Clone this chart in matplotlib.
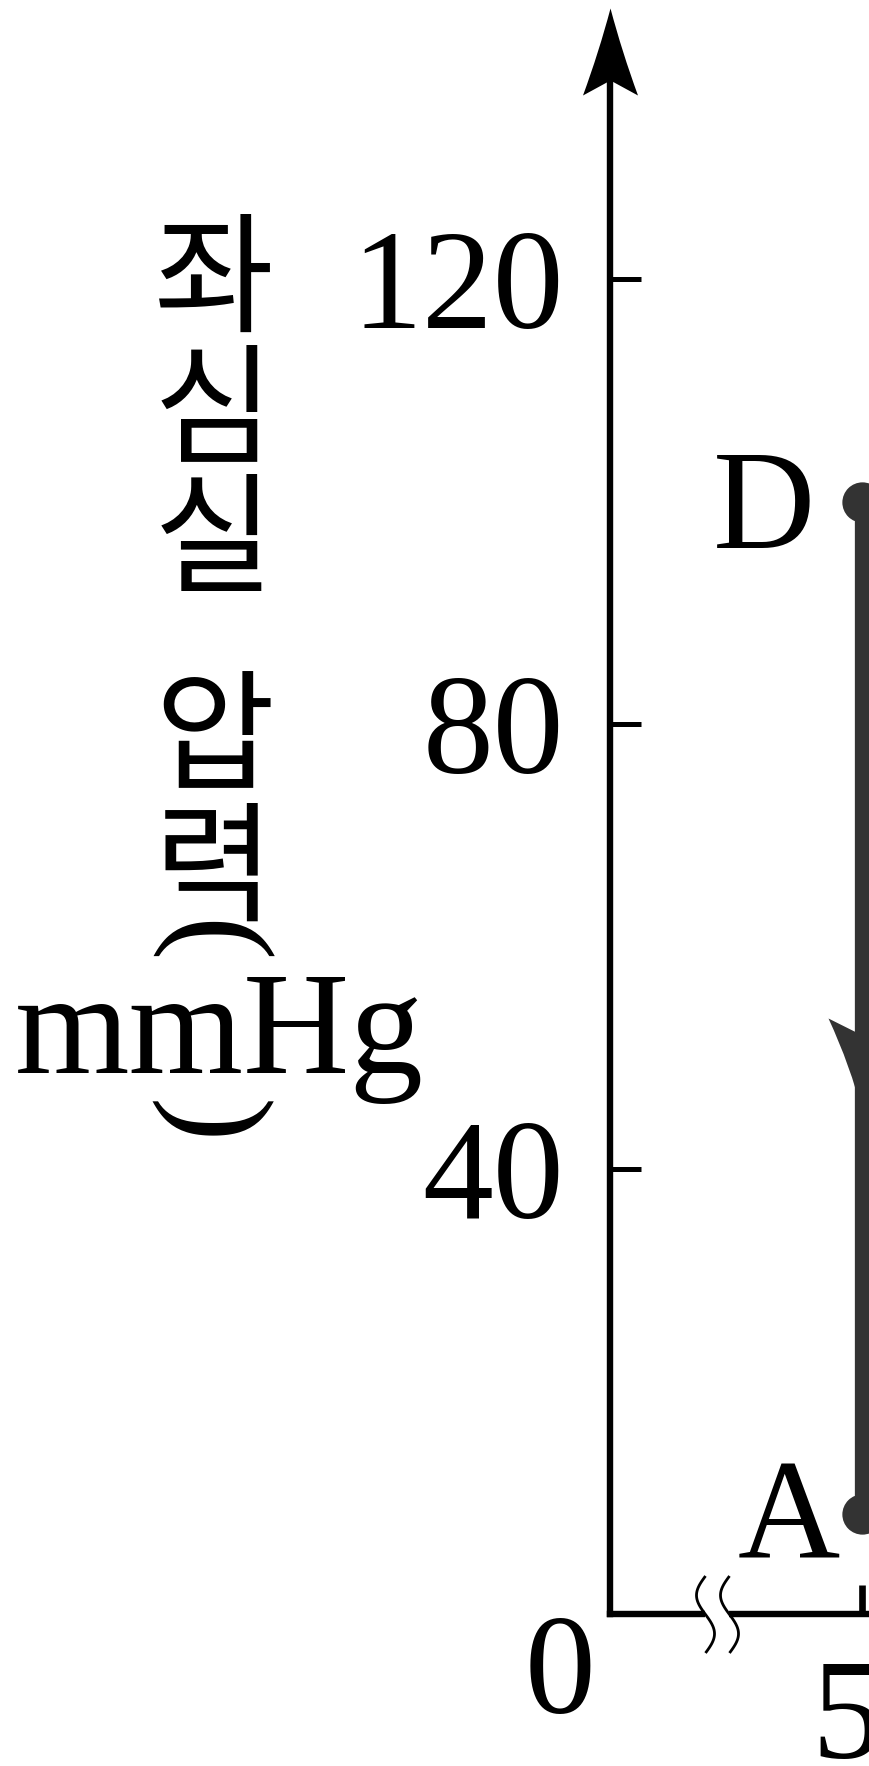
import numpy as np
import matplotlib
matplotlib.use("Agg")
import matplotlib.pyplot as plt
import matplotlib.transforms as mtrans
from matplotlib.path import Path
from matplotlib.markers import MarkerStyle

# ---------------- data ----------------
point_labels = ["D", "A"]
point_volume = [50, 50]          # mL
point_pressure = [100, 9]        # mmHg
arrow_pressure = 45              # direction arrow on D -> A segment
y_ticks = [40, 80, 120]
y_tick_labels = ["40", "80", "120"]
x_ticks = [50]
x_tick_labels = ["50"]
ylabel_chars = ["좌", "심", "실", "압", "력"]
ylabel_unit = "mmHg"

W, H = 870, 1766
fig = plt.figure(figsize=(W / 100, H / 100), dpi=100)
fig.patch.set_facecolor("white")

# axes geometry (pixels)
x0_px, y0_px = 610, 1614
top_px = 8
ax = fig.add_axes([x0_px / W, (H - y0_px) / H, (W - x0_px) / W, (y0_px - top_px) / H])
px_per_ml = (862 - x0_px) / 50.0
px_per_mmhg = (y0_px - 279) / 120.0
ax.set_xlim(0, (W - x0_px) / px_per_ml)
ymax = (y0_px - top_px) / px_per_mmhg
ax.set_ylim(0, ymax)
ax.set_facecolor("none")

for s in ["top", "right"]:
    ax.spines[s].set_visible(False)
for s in ["left", "bottom"]:
    ax.spines[s].set_linewidth(4.6)
    ax.spines[s].set_color("black")
ax.spines["left"].set_bounds(0, ymax - 50 / px_per_mmhg)

serif = "Liberation Serif"
ax.set_yticks(y_ticks, y_tick_labels)
ax.set_xticks(x_ticks, x_tick_labels)
ax.tick_params(axis="both", direction="in", length=22, width=3.6, color="black",
               labelsize=102, labelfontfamily=serif)
ax.tick_params(axis="y", pad=33)
ax.tick_params(axis="x", pad=33, length=21, width=4.8)
for lab in ax.get_xticklabels():
    lab.set_transform(lab.get_transform() + mtrans.ScaledTranslation(20 / 100, 0, fig.dpi_scale_trans))

dark = "#333333"
# D -> A line
ax.plot(point_volume, point_pressure, color=dark, lw=11, solid_capstyle="butt", zorder=3)
ax.plot(point_volume, point_pressure, "o", color=dark, ms=29, mew=0, zorder=4)

# stealth-style arrowhead markers
def stealth(length, half_w, notch, down=False, bend=0.4):
    s = -1 if down else 1
    verts = [(0, 0), (half_w * bend, -s * length * 0.5), (half_w, -s * length),
             (0, -s * notch), (-half_w, -s * length), (-half_w * bend, -s * length * 0.5), (0, 0), (0, 0)]
    codes = [Path.MOVETO, Path.CURVE3, Path.CURVE3, Path.LINETO, Path.LINETO,
             Path.CURVE3, Path.CURVE3, Path.CLOSEPOLY]
    return Path(verts, codes)

# direction arrow on D->A (pointing down), tip at arrow_pressure
ax.plot([point_volume[0]], [arrow_pressure], marker=MarkerStyle(stealth(95, 34, 78, down=True, bend=0.35)),
        color=dark, ms=2 * 95 * 0.72, mew=0, zorder=5)
# y-axis arrow
ax.plot([0], [ymax], marker=MarkerStyle(stealth(87, 27.5, 72, bend=0.42)), color="black",
        ms=2 * 87 * 0.72, mew=0, clip_on=False, zorder=6)

# axis break mark on x-axis
brk_ml = (717 - x0_px) / px_per_ml
t = np.linspace(-1, 1, 60)
a, half_h, off = 9, 38.5, 12
vs, cs = [], []
for dx in (-off, off):
    xs = dx - a * np.sin(np.pi * t)
    pts = list(zip(xs, t * half_h))
    vs += pts
    cs += [Path.MOVETO] + [Path.LINETO] * (len(pts) - 1)
s_path = Path(vs, cs)
gap_path = Path([(-off, -5), (off, -5), (off, 5), (-off, 5), (-off, -5)],
                [Path.MOVETO, Path.LINETO, Path.LINETO, Path.LINETO, Path.CLOSEPOLY])
ax.plot([brk_ml], [0], marker=MarkerStyle(gap_path), color="white", ms=2 * off * 0.72,
        mew=0, clip_on=False, zorder=7)
ax.plot([brk_ml], [0], marker=MarkerStyle(s_path), color="black", mfc="none",
        ms=2 * half_h * 0.72, mew=2.0, clip_on=False, zorder=8)

# point labels
label_offsets = {"D": (-98, -47), "A": (-73, -44)}
for lab, v, p in zip(point_labels, point_volume, point_pressure):
    dx, dy = label_offsets[lab]
    ax.annotate(lab, (v, p), xytext=(dx * 0.72, dy * 0.72), textcoords="offset points",
                ha="center", va="baseline", fontsize=102, family=serif)

# origin label
ax.annotate("0", (0, 0), xytext=(-50 * 0.72, -99 * 0.72), textcoords="offset points",
            ha="center", va="baseline", fontsize=102, family=serif, annotation_clip=False)

# vertical Korean y-label
kr = ["Noto Sans CJK KR", "DejaVu Sans"]
char_centers = [271, 402.5, 531.5, 728, 860]
for ch, cy in zip(ylabel_chars, char_centers):
    fig.text(214 / W, 1 - (cy + 51) / H, ch, ha="center", va="baseline",
             fontsize=94, family=kr)
fig.text(207 / W, 1 - 942 / H, "(", rotation=-90, ha="center", va="center",
         fontsize=96, family=serif)
fig.text(219 / W, 1 - 1073 / H, ylabel_unit, ha="center", va="baseline",
         fontsize=106, family=serif)
fig.text(207 / W, 1 - 1122 / H, ")", rotation=-90, ha="center", va="center",
         fontsize=96, family=serif)

fig.savefig("out.png", dpi=100, facecolor="white")
